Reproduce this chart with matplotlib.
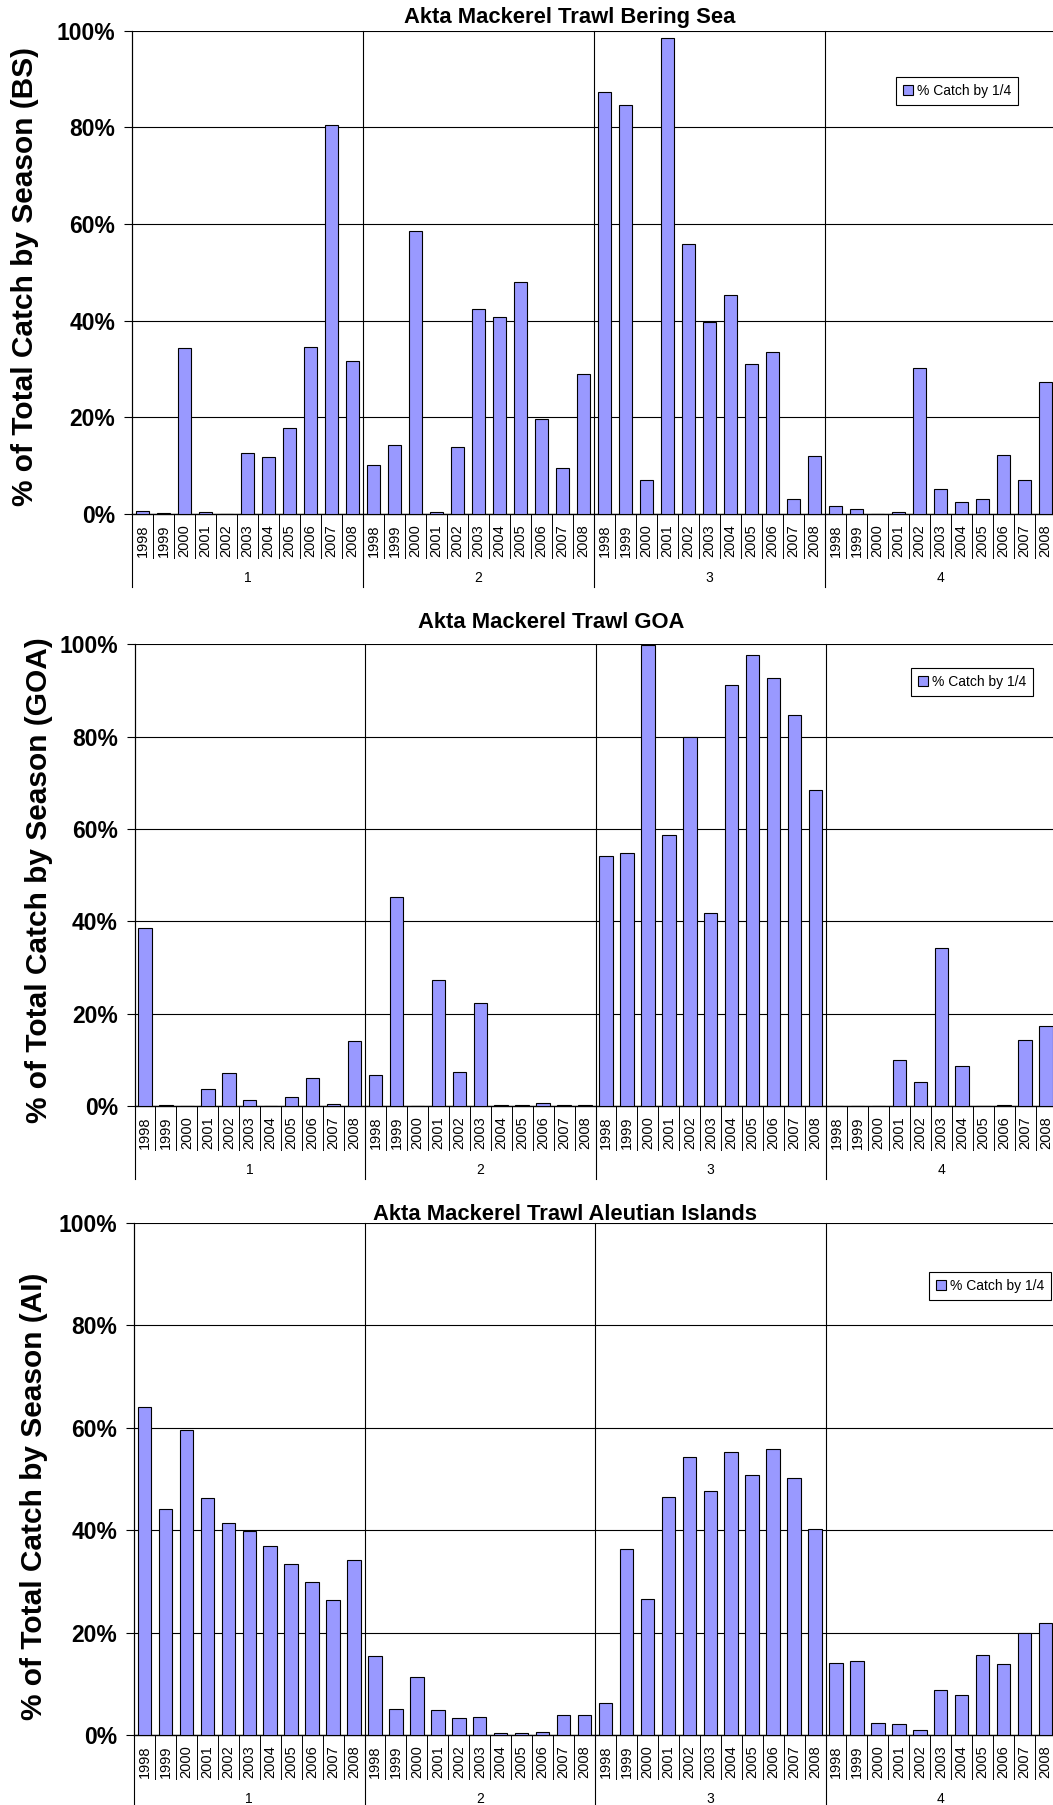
import matplotlib
matplotlib.use("Agg")
import matplotlib.pyplot as plt
import numpy as np

plt.rcParams['font.family'] = ['Liberation Sans', 'DejaVu Sans']

"""
Data: % of total catch by season (quarter) and year
"""

years = ['1998', '1999', '2000', '2001', '2002', '2003', '2004', '2005', '2006', '2007', '2008']
seasons = ['1', '2', '3', '4']
series_name = '% Catch by 1/4'

# Bering Sea
bs_q1 = [0.6, 0.2, 34.4, 0.5, 0.0, 12.7, 11.7, 17.8, 34.6, 80.4, 31.6]
bs_q2 = [10.2, 14.2, 58.6, 0.5, 13.8, 42.5, 40.7, 47.9, 19.6, 9.6, 29.0]
bs_q3 = [87.3, 84.6, 7.0, 98.5, 55.8, 39.7, 45.3, 31.1, 33.5, 3.0, 12.0]
bs_q4 = [1.7, 1.0, 0.0, 0.4, 30.2, 5.2, 2.4, 3.0, 12.2, 7.0, 27.4]

# Gulf of Alaska
goa_q1 = [38.6, 0.2, 0.0, 3.6, 7.1, 1.2, 0.0, 2.0, 6.1, 0.5, 14.0]
goa_q2 = [6.7, 45.3, 0.0, 27.2, 7.4, 22.3, 0.2, 0.3, 0.7, 0.3, 0.2]
goa_q3 = [54.2, 54.7, 99.8, 58.7, 79.9, 41.9, 91.1, 97.6, 92.6, 84.6, 68.4]
goa_q4 = [0.0, 0.0, 0.0, 9.9, 5.1, 34.3, 8.6, 0.0, 0.3, 14.3, 17.4]

# Aleutian Islands
ai_q1 = [64.1, 44.2, 59.6, 46.2, 41.4, 39.9, 36.8, 33.4, 29.8, 26.3, 34.1]
ai_q2 = [15.4, 5.0, 11.3, 4.8, 3.4, 3.6, 0.3, 0.3, 0.5, 3.9, 3.9]
ai_q3 = [6.3, 36.3, 26.6, 46.4, 54.3, 47.6, 55.3, 50.8, 55.8, 50.1, 40.3]
ai_q4 = [14.0, 14.4, 2.4, 2.2, 1.0, 8.8, 7.8, 15.7, 13.8, 19.9, 21.9]

titles = ['Akta Mackerel Trawl Bering Sea', 'Akta Mackerel Trawl GOA', 'Akta Mackerel Trawl Aleutian Islands']
ylabels = ['% of Total Catch by Season (BS)', '% of Total Catch by Season (GOA)', '% of Total Catch by Season (AI)']
panels = [[bs_q1, bs_q2, bs_q3, bs_q4], [goa_q1, goa_q2, goa_q3, goa_q4], [ai_q1, ai_q2, ai_q3, ai_q4]]

# layout in pixels: (left, top, right, zero line), title (x, baseline), ylabel (baseline x, centre y), legend (x, y)
W, H = 1053, 1805
boxes = [(132, 30.5, 1056, 514), (134.5, 644.3, 1056.5, 1106), (134, 1222.7, 1056, 1735)]
title_pos = [(570, 23), (551.5, 628), (565, 1220)]
ylabel_pos = [(33.5, 276), (47.5, 880), (42, 1496)]
legend_pos = [(896, 77), (911, 668), (929, 1272)]

bar_color = '#9999FF'

fig = plt.figure(figsize=(W / 100, H / 100), dpi=100)

def fx(px):
  return px / W

def fy(py):
  return 1 - py / H

for p in range(3):
  left, top, right, zero = boxes[p]
  h_px = zero - top
  ax = fig.add_axes([fx(left), fy(zero), (right - left) / W, h_px / H])

  values = np.concatenate(panels[p]) / 100.0
  x = np.arange(len(values)) + 0.5
  bars = ax.bar(x, values, width=0.64, color=bar_color, edgecolor='black', linewidth=0.8, zorder=3)

  ax.set_xlim(0, len(values))
  ax.set_ylim(0, 1)

  # horizontal gridlines behind the bars
  ax.set_yticks([0, 0.2, 0.4, 0.6, 0.8, 1.0])
  ax.set_yticklabels(['0%', '20%', '40%', '60%', '80%', '100%'], fontsize=16.5, fontweight='bold')
  ax.yaxis.grid(True, color='black', linewidth=0.8)
  ax.set_axisbelow(True)
  ax.tick_params(axis='y', direction='out', length=5.5, width=0.8, pad=6.5)

  # year labels under every bar
  ax.set_xticks(x)
  ax.set_xticklabels(years * 4, rotation=90, fontsize=10.5)
  ax.tick_params(axis='x', length=0, pad=7.5)

  for side in ['top', 'right']:
    ax.spines[side].set_visible(False)
  ax.spines['left'].set_linewidth(0.8)
  ax.spines['bottom'].set_linewidth(1.0)

  # short separators between the year labels
  for i in range(len(values) + 1):
    ax.axvline(i, ymin=-44 / h_px, ymax=0, color='black', linewidth=0.7, clip_on=False)

  # season dividers run through the plot and the label area
  for k in range(len(seasons) + 1):
    ax.axvline(k * len(years), ymin=-73 / h_px, ymax=1, color='black', linewidth=0.8, clip_on=False)

  for k, s in enumerate(seasons):
    ax.text(k * len(years) + len(years) / 2, -64 / h_px, s, transform=ax.get_xaxis_transform(),
            ha='center', va='center', fontsize=10)

  leg = ax.legend([bars], [series_name], loc='upper left',
                  bbox_to_anchor=(fx(legend_pos[p][0]), fy(legend_pos[p][1])), bbox_transform=fig.transFigure,
                  fontsize=10, frameon=True, fancybox=False, framealpha=1, edgecolor='black',
                  handlelength=0.7, handleheight=0.7, handletextpad=0.3, borderpad=0.5, borderaxespad=0)
  leg.get_frame().set_linewidth(0.8)

  fig.text(fx(title_pos[p][0]), fy(title_pos[p][1]), titles[p], ha='center', va='baseline',
           fontsize=15.8, fontweight='bold')
  fig.text(fx(ylabel_pos[p][0]), fy(ylabel_pos[p][1]), ylabels[p], rotation=90, rotation_mode='anchor',
           ha='center', va='baseline', fontsize=21.5, fontweight='bold')

fig.savefig('out.png', dpi=100)
